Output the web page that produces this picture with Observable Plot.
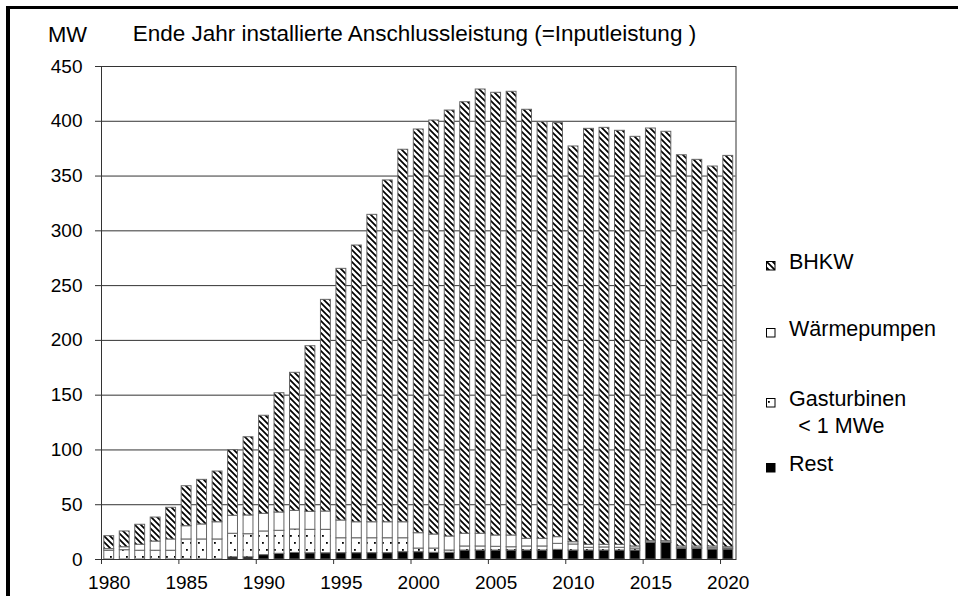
<!DOCTYPE html>
<html><head><meta charset="utf-8">
<script src="https://cdn.jsdelivr.net/npm/d3@7"></script>
<script src="https://cdn.jsdelivr.net/npm/@observablehq/plot@0.6"></script>
<style>
html,body{margin:0;padding:0;background:#fff;}
#wrap{position:relative;width:958px;height:596px;overflow:hidden;font-family:"Liberation Sans",Arial,sans-serif;color:#000;}
#chart{position:absolute;left:0;top:0;}
#border{position:absolute;left:6px;top:6px;width:990px;height:640px;border-top:3px solid #000;border-left:4px solid #000;}
.t{position:absolute;white-space:nowrap;line-height:1;}
.sw{position:absolute;}
</style></head><body>
<div id="wrap">
  <div id="chart"></div>
  <div id="border"></div>
  <div class="t" style="left:48px;top:23.7px;font-size:22px">MW</div>
  <div class="t" style="left:132.7px;top:23.3px;font-size:22.5px">Ende Jahr installierte Anschlussleistung (=Inputleistung )</div>
  <div id="legend"></div>
</div>
<script>
const years = [1980,1981,1982,1983,1984,1985,1986,1987,1988,1989,1990,1991,1992,1993,1994,1995,1996,1997,1998,1999,2000,2001,2002,2003,2004,2005,2006,2007,2008,2009,2010,2011,2012,2013,2014,2015,2016,2017,2018,2019,2020];
const rest = [0,0,0,0,0,0,0,0,2,2,4,5.2,6,5.7,5.7,5.8,5.8,5.8,5.8,6.7,6.7,6.1,6.1,8.2,8.2,8.2,8.2,8.2,8.2,8.8,8.2,8.2,8.2,8.2,8.2,15.2,15.2,9.7,9.7,9.1,9.1];
const gasturbinen = [8,8.5,8,8,8,18.3,18.3,18.3,21.5,21.1,21.6,21,21.4,21.4,21.4,13.6,13.6,13.6,13.6,12.7,3.3,3.9,2.1,3.7,3.7,3.4,3,3.7,3.7,5.5,5.5,2.5,2.8,2.5,1.8,0.3,0.3,0.6,0.6,1.2,0.9];
const waermepumpen = [1.5,2.7,5.5,8.4,10.3,12.1,13.7,15.7,16.4,17.1,16.1,16.7,17,16.4,16.7,16.2,14.6,14.6,14.6,14.6,14,12.8,12.8,11.6,11.6,10.3,10.7,7,7,6.1,2.1,2.7,2.4,2.7,1.9,1.2,1.2,1.6,1.6,1.6,1.2];
const bhkw = [11.8,14.4,18.2,21.9,28.9,36.5,40.7,46.3,59.9,71.4,89.5,108.9,126,151.2,193.2,229.7,252.6,280.6,312,340,368.5,377.9,388.8,393.9,405.5,404.1,405,391.6,380.3,377.9,361.2,379.7,380.6,377.9,373.9,376.7,373.7,357.1,352.9,346.8,357.2];
const tickYears = [1980,1985,1990,1995,2000,2005,2010,2015,2020];
const yTicks = [0,50,100,150,200,250,300,350,400,450];
const seriesNames = ["Rest","Gasturbinen","Wärmepumpen","BHKW"];
const legendLabels = [["BHKW"],["Wärmepumpen"],["Gasturbinen","< 1 MWe"],["Rest"]];

const fills = {"Rest":"#000","Gasturbinen":"url(#dots)","Wärmepumpen":"#fff","BHKW":"url(#hatch)"};
const valuesBy = {"Rest":rest,"Gasturbinen":gasturbinen,"Wärmepumpen":waermepumpen,"BHKW":bhkw};

// stack
const base = years.map(() => 0);
const layers = seriesNames.map(name => {
  const rows = years.map((yr, i) => {
    const y1 = base[i], y2 = base[i] + valuesBy[name][i];
    base[i] = y2;
    return {year: yr, y1, y2};
  });
  return {name, rows};
});

const chart = Plot.plot({
  width: 958, height: 596,
  marginLeft: 101, marginRight: 222.5, marginTop: 66, marginBottom: 37,
  x: {domain: [1980, 2021], label: null},
  y: {domain: [0, 450], label: null},
  style: {fontFamily: '"Liberation Sans", Arial, sans-serif', fontSize: "19px", color: "#000", background: "transparent"},
  marks: [
    Plot.gridY(yTicks, {stroke: "#333", strokeOpacity: 1}),
    ...layers.map(l => Plot.rect(l.rows, {
      x1: "year", x2: d => d.year + 1, y1: "y1", y2: "y2",
      insetLeft: 2.8, insetRight: 2.8,
      fill: fills[l.name], stroke: "#666", strokeWidth: 1
    })),
    Plot.frame({stroke: "#333"}),
    Plot.axisY(yTicks, {tickSize: 6, tickPadding: 13, stroke: "#333", label: null}),
    Plot.axisX(tickYears, {tickSize: 5, tickFormat: () => "", stroke: "#333", label: null}),
    Plot.axisX(tickYears.map(y => y + 0.5), {tickSize: 0, tickPadding: 16, tickFormat: d => String(Math.floor(d)), label: null})
  ]
});
document.getElementById("chart").appendChild(chart);

d3.select(chart).insert("defs", ":first-child").html(`
  <pattern id="hatch" patternUnits="userSpaceOnUse" width="6" height="6">
    <rect width="6" height="6" fill="#fff"/>
    <path d="M-1,-1 L7,7 M-1,5 L1,7 M5,-1 L7,1" stroke="#000" stroke-width="1.7"/>
  </pattern>
  <pattern id="dots" patternUnits="userSpaceOnUse" width="8" height="14">
    <rect width="8" height="14" fill="#fff"/>
    <rect x="2" y="3" width="1.8" height="1.8" fill="#000"/>
    <rect x="6" y="10" width="1.8" height="1.8" fill="#000"/>
  </pattern>`);

// legend (HTML)
const legendOrder = ["BHKW","Wärmepumpen","Gasturbinen","Rest"];
const legendTops = [252.2, 318.9, 388.9, 453.9];
const leg = document.getElementById("legend");
legendOrder.forEach((name, i) => {
  const top = legendTops[i];
  const baseline = top + 0.8465 * 21.5;
  const sw = document.createElementNS("http://www.w3.org/2000/svg", "svg");
  sw.setAttribute("class", "sw");
  sw.setAttribute("width", 11); sw.setAttribute("height", 11);
  sw.style.left = "766px"; sw.style.top = (baseline - 9.5) + "px";
  sw.innerHTML = `<rect x="0.5" y="0.5" width="8.5" height="8.5" fill="${fills[name]}" stroke="#000" stroke-width="1"/>`;
  leg.appendChild(sw);
  legendLabels[i].forEach((txt, j) => {
    const d = document.createElement("div");
    d.className = "t";
    d.style.fontSize = "21.5px";
    d.style.left = (j === 0 ? 789 : 798.3) + "px";
    d.style.top = (top + j * 26.6) + "px";
    d.textContent = txt;
    leg.appendChild(d);
  });
});
</script>
</body></html>
